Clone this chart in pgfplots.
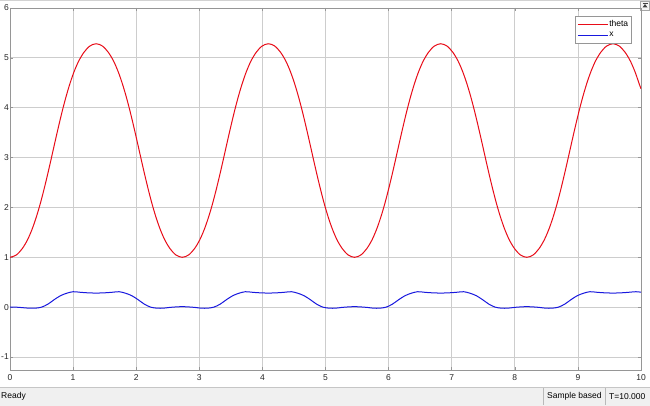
\documentclass[border=0pt]{standalone}
\usepackage{fontspec}
\setmainfont{Liberation Sans}
\usepackage{pgfplots}
\pgfplotsset{compat=1.18}
\definecolor{thetared}{RGB}{232,12,24}
\definecolor{xblue}{RGB}{24,24,222}
\definecolor{gridgray}{RGB}{205,205,205}
\definecolor{boxgray}{RGB}{150,150,150}
\definecolor{barbg}{RGB}{240,240,240}
\pgfplotsset{
  redleg/.style={legend image code/.code={\draw[thetared, line width=0.9pt] (0pt,0pt) -- (30pt,0pt);}},
  blueleg/.style={legend image code/.code={\draw[xblue, line width=0.9pt] (0pt,0pt) -- (30pt,0pt);}},
}
\begin{document}
\begin{tikzpicture}[x=1pt,y=1pt]
\path[use as bounding box, fill=white] (0,0) rectangle (650,406);
\draw[gray!35, line width=0.8pt] (0,405.4) -- (650,405.4);
% status bar
\fill[barbg] (0,0) rectangle (650,19);
\draw[gray!45, line width=0.6pt] (0,19) -- (650,19);
\draw[gray!55, line width=0.6pt] (543,1) -- (543,18);
\draw[gray!55, line width=0.6pt] (605,1) -- (605,18);
\node[anchor=west, inner sep=0pt, font=\fontsize{8.5}{10}\selectfont] at (1,9.5) {Ready};
\node[anchor=west, inner sep=0pt, font=\fontsize{8.5}{10}\selectfont] at (547,9.5) {Sample based};
\node[anchor=west, inner sep=0pt, font=\fontsize{8.5}{10}\selectfont] at (609,9.5) {T=10.000};
% small button top right
\draw[gray!70, fill=gray!8, line width=0.5pt] (640.5,395.5) rectangle (649.5,405);
\fill[black!75] (642.5,398.5) -- (647.5,398.5) -- (645,402) -- cycle;
\draw[black!75, line width=0.6pt] (642.5,403) -- (647.5,403);
\begin{axis}[
  at={(10pt,36pt)}, anchor=south west,
  scale only axis, width=631pt, height=362pt,
  xmin=0, xmax=10, ymin=-1.26, ymax=6,
  xtick={0,1,...,10}, ytick={-1,0,...,6},
  grid=major,
  grid style={gridgray, line width=0.8pt},
  axis line style={boxgray, line width=0.8pt},
  tick style={boxgray, line width=0.6pt},
  major tick length=3pt,
  /pgf/number format/assume math mode=true,
  ticklabel style={font=\fontsize{8.5}{10}\selectfont, text=black!85},
  yticklabel style={inner sep=1pt, xshift=0pt},
  xticklabel style={inner sep=1pt, yshift=-3pt},
  legend style={at={(0.9857,0.978)}, anchor=north east, draw=boxgray, fill=white,
    line width=0.6pt, font=\fontsize{8.5}{9}\selectfont, inner xsep=2.5pt, inner ysep=3.5pt,
    row sep=2pt, nodes={inner sep=1pt},
    /tikz/every even column/.append style={column sep=2pt}},
  legend cell align=left,
]
\addplot[color=thetared, line width=1pt, smooth, redleg] coordinates {
(0,1.000)(0.0998,1.046)(0.1931,1.172)(0.2766,1.348)(0.3505,1.564)(0.4163,1.804)(0.4760,2.058)(0.5312,2.323)(0.5833,2.593)(0.6334,2.866)(0.6825,3.142)(0.7316,3.417)(0.7817,3.690)(0.8338,3.961)(0.8890,4.225)(0.9487,4.479)(1.0145,4.719)(1.0884,4.935)(1.1719,5.111)(1.2651,5.237)(1.3650,5.283)
(1.4649,5.237)(1.5581,5.111)(1.6416,4.935)(1.7155,4.719)(1.7813,4.479)(1.8410,4.225)(1.8962,3.961)(1.9483,3.690)(1.9984,3.417)(2.0475,3.142)(2.0966,2.866)(2.1467,2.593)(2.1988,2.323)(2.2540,2.058)(2.3137,1.804)(2.3795,1.564)(2.4534,1.348)(2.5369,1.172)(2.6302,1.046)(2.7300,1.000)
(2.8298,1.046)(2.9231,1.172)(3.0066,1.348)(3.0805,1.564)(3.1463,1.804)(3.2060,2.058)(3.2612,2.323)(3.3133,2.593)(3.3634,2.866)(3.4125,3.142)(3.4616,3.417)(3.5117,3.690)(3.5638,3.961)(3.6190,4.225)(3.6787,4.479)(3.7445,4.719)(3.8184,4.935)(3.9019,5.111)(3.9951,5.237)(4.0950,5.283)
(4.1949,5.237)(4.2881,5.111)(4.3716,4.935)(4.4455,4.719)(4.5113,4.479)(4.5710,4.225)(4.6262,3.961)(4.6783,3.690)(4.7284,3.417)(4.7775,3.142)(4.8266,2.866)(4.8767,2.593)(4.9288,2.323)(4.9840,2.058)(5.0437,1.804)(5.1095,1.564)(5.1834,1.348)(5.2669,1.172)(5.3602,1.046)(5.4600,1.000)
(5.5598,1.046)(5.6531,1.172)(5.7366,1.348)(5.8105,1.564)(5.8763,1.804)(5.9360,2.058)(5.9912,2.323)(6.0433,2.593)(6.0934,2.866)(6.1425,3.142)(6.1916,3.417)(6.2417,3.690)(6.2938,3.961)(6.3490,4.225)(6.4087,4.479)(6.4745,4.719)(6.5484,4.935)(6.6319,5.111)(6.7251,5.237)(6.8250,5.283)
(6.9249,5.237)(7.0181,5.111)(7.1016,4.935)(7.1755,4.719)(7.2413,4.479)(7.3010,4.225)(7.3562,3.961)(7.4083,3.690)(7.4584,3.417)(7.5075,3.142)(7.5566,2.866)(7.6067,2.593)(7.6588,2.323)(7.7140,2.058)(7.7737,1.804)(7.8395,1.564)(7.9134,1.348)(7.9969,1.172)(8.0902,1.046)(8.1900,1.000)
(8.2898,1.046)(8.3831,1.172)(8.4666,1.348)(8.5405,1.564)(8.6063,1.804)(8.6660,2.058)(8.7212,2.323)(8.7733,2.593)(8.8234,2.866)(8.8725,3.142)(8.9216,3.417)(8.9717,3.690)(9.0238,3.961)(9.0790,4.225)(9.1387,4.479)(9.2045,4.719)(9.2784,4.935)(9.3619,5.111)(9.4551,5.237)(9.5550,5.283)
(9.6549,5.237)(9.7481,5.111)(9.8316,4.935)(9.9055,4.719)(9.9713,4.479)(10.0,4.38)
};
\addlegendentry{theta}
\addplot[color=xblue, line width=1pt, smooth, blueleg] coordinates {
(0,0.00)(0.1,0.00)(0.2,-0.01)(0.3,-0.02)(0.4,-0.02)(0.5,0.00)(0.6,0.06)(0.7,0.15)(0.8,0.23)(0.9,0.28)(1.0,0.31)(1.1,0.30)(1.2,0.29)(1.3,0.285)(1.365,0.28)(1.43,0.285)(1.53,0.29)(1.63,0.30)(1.73,0.31)(1.83,0.28)(1.93,0.23)(2.03,0.15)(2.13,0.06)(2.23,0.00)(2.33,-0.02)(2.43,-0.02)(2.53,-0.005)(2.63,0.005)(2.73,0.01)
(2.83,0.005)(2.93,-0.005)(3.03,-0.02)(3.13,-0.02)(3.23,0.00)(3.33,0.06)(3.43,0.15)(3.53,0.23)(3.63,0.28)(3.73,0.31)(3.83,0.30)(3.93,0.29)(4.03,0.285)(4.095,0.28)(4.16,0.285)(4.26,0.29)(4.36,0.30)(4.46,0.31)(4.56,0.28)(4.66,0.23)(4.76,0.15)(4.86,0.06)(4.96,0.00)(5.06,-0.02)(5.16,-0.02)(5.26,-0.005)(5.36,0.005)(5.46,0.01)
(5.56,0.005)(5.66,-0.005)(5.76,-0.02)(5.86,-0.02)(5.96,0.00)(6.06,0.06)(6.16,0.15)(6.26,0.23)(6.36,0.28)(6.46,0.31)(6.56,0.30)(6.66,0.29)(6.76,0.285)(6.825,0.28)(6.89,0.285)(6.99,0.29)(7.09,0.30)(7.19,0.31)(7.29,0.28)(7.39,0.23)(7.49,0.15)(7.59,0.06)(7.69,0.00)(7.79,-0.02)(7.89,-0.02)(7.99,-0.005)(8.09,0.005)(8.19,0.01)
(8.29,0.005)(8.39,-0.005)(8.49,-0.02)(8.59,-0.02)(8.69,0.00)(8.79,0.06)(8.89,0.15)(8.99,0.23)(9.09,0.28)(9.19,0.31)(9.29,0.30)(9.39,0.29)(9.49,0.285)(9.555,0.28)(9.62,0.285)(9.72,0.29)(9.82,0.30)(9.92,0.31)(10,0.30)
};
\addlegendentry{x}
\end{axis}
\end{tikzpicture}
\end{document}
